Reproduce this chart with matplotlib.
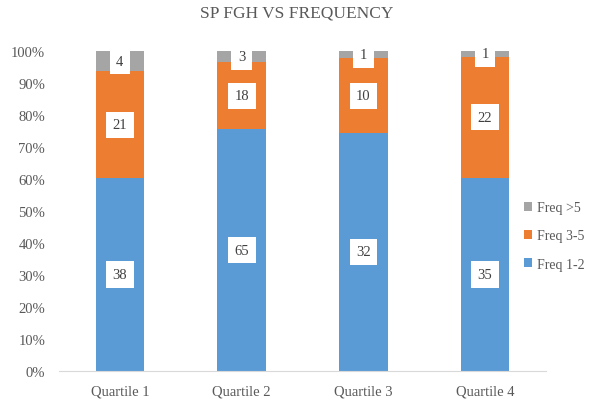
import numpy as np
import matplotlib
matplotlib.use("Agg")
from matplotlib import pyplot as plt
from matplotlib.ticker import PercentFormatter

plt.rcParams['font.family'] = ['Liberation Serif', 'DejaVu Serif']

categories = ["Quartile 1", "Quartile 2", "Quartile 3", "Quartile 4"]
freq_1_2 = [38, 65, 32, 35]
freq_3_5 = [21, 18, 10, 22]
freq_gt5 = [4, 3, 1, 1]
series_names = ["Freq 1-2", "Freq 3-5", "Freq >5"]
colors = ["#5B9BD5", "#ED7D31", "#A5A5A5"]

data = np.array([freq_1_2, freq_3_5, freq_gt5], dtype=float)
pct = data / data.sum(axis=0) * 100

fig = plt.figure(figsize=(5.93, 4.02), dpi=100)
ax = fig.add_axes([59/593, 30/402, 487/593, 320/402])

x = np.arange(len(categories))
bottom = np.zeros(len(categories))
handles = []
for i in range(3):
    b = ax.bar(x, pct[i], 0.4, bottom=bottom, color=colors[i], label=series_names[i])
    handles.append(b)
    for j in range(len(categories)):
        ax.text(x[j], bottom[j] + pct[i][j] / 2, str(int(data[i][j])),
                ha="center", va="center", fontsize=10.5, color="#404040",
                bbox=dict(boxstyle="square,pad=0.45", fc="white", ec="none"))
    bottom += pct[i]

ax.set_xlim(-0.5, len(categories) - 0.5)
ax.set_ylim(0, 100)
ax.set_yticks(np.arange(0, 101, 10))
ax.yaxis.set_major_formatter(PercentFormatter(decimals=0))
ax.set_xticks(x)
ax.set_xticklabels(categories)
ax.tick_params(axis="both", length=0, labelsize=10.5, colors="#595959")
ax.tick_params(axis="y", pad=10)
ax.tick_params(axis="x", pad=10)
for s in ["top", "right", "left"]:
    ax.spines[s].set_visible(False)
ax.spines["bottom"].set_color("#D9D9D9")

fig.text(0.5, 1 - 14/402, "SP FGH VS FREQUENCY", ha="center", va="center",
         fontsize=12.5, color="#595959")

leg = fig.legend(handles[::-1], series_names[::-1], loc="center left",
                 bbox_to_anchor=(511/593, 1 - 237/402), frameon=False,
                 fontsize=10, handlelength=0.6, handleheight=0.6,
                 handletextpad=0.4, labelspacing=1.1, labelcolor="#595959")

fig.savefig("out.png", dpi=100)
